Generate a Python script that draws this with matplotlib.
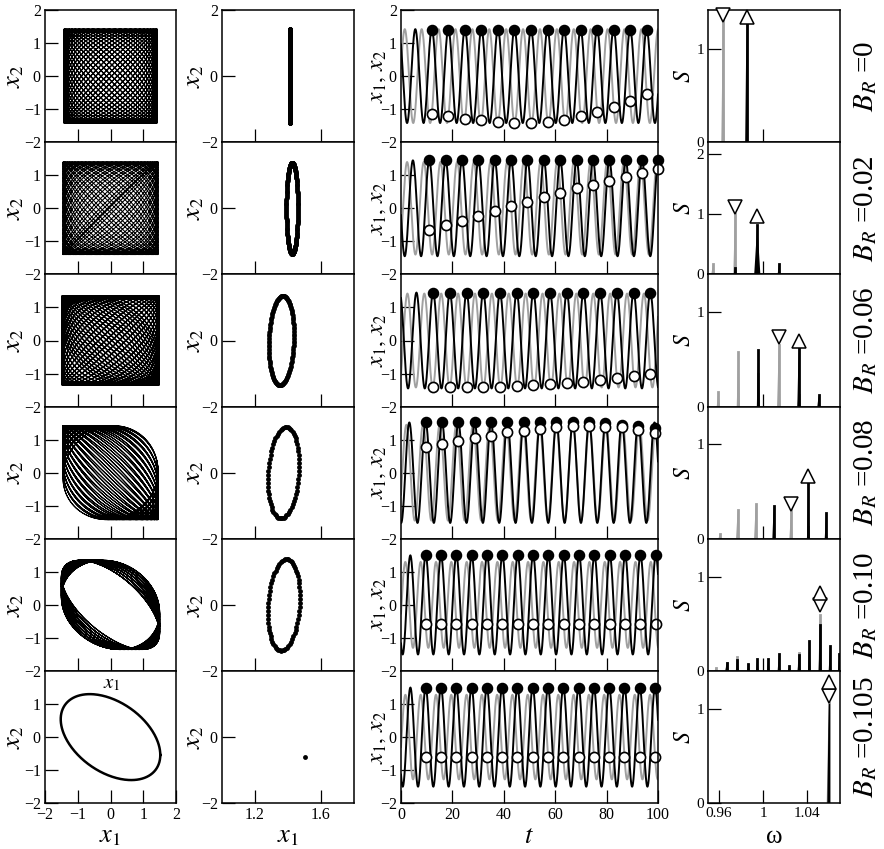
import numpy as np
import matplotlib.pyplot as plt

plt.rcParams['font.family'] = ['Liberation Serif', 'DejaVu Serif']
plt.rcParams['mathtext.fontset'] = 'stix'

W, H = 884, 849
b_r = ['0', '0.02', '0.06', '0.08', '0.10', '0.105']

# ---- time series (column 3) ----
ts_first = [12.0, 11.0, 12.5, 9.6, 9.6, 9.6]
ts_period = [6.43, 6.37, 6.5, 6.36, 5.97, 5.95]
ts_amp1 = [1.42, 1.45, 1.45, 1.52, 1.5, 1.5]
ts_amp2 = [1.42, 1.40, 1.42, 1.45, 1.3, 1.28]
ts_phase0 = [3.78, 2.07, 3.28, 0.99, 2.05, 2.05]
ts_drift = [-0.139, -0.115, -0.07, -0.11, 0.0, 0.0]
filled_vals = [
    [1.40] * 14,
    [1.45] * 15,
    [1.45] * 14,
    [1.52] * 11 + [1.50, 1.45, 1.40, 1.36],
    [1.50] * 16,
    [1.50] * 16,
]
open_vals = [
    [-1.14, -1.22, -1.29, -1.34, -1.39, -1.42, -1.42, -1.39, -1.32, -1.22, -1.10, -0.92, -0.74, -0.55],
    [-0.67, -0.52, -0.37, -0.22, -0.08, 0.06, 0.20, 0.34, 0.47, 0.60, 0.72, 0.84, 0.95, 1.06, 1.18],
    [-1.41, -1.42, -1.42, -1.42, -1.41, -1.39, -1.36, -1.33, -1.29, -1.25, -1.20, -1.14, -1.08, -1.02],
    [0.77, 0.88, 0.95, 1.05, 1.12, 1.22, 1.27, 1.33, 1.39, 1.40, 1.40, 1.38, 1.37, 1.30, 1.20],
    [-0.58] * 16,
    [-0.59] * 16,
]

# ---- phase portraits (column 1) ----
pp_amp1 = [1.42, 1.45, 1.48, 1.45, 1.5, 1.52]
pp_amp2 = [1.42, 1.40, 1.35, 1.42, 1.35, 1.3]
pp_periods = [52, 32, 50, 44, 40, 1]
pp_phase0 = [0.0, 0.0, 0.0, 2.3, 2.0, 2.0]
pp_drift = [0.121, 0.2, 0.126, 0.0, 0.0, 0.0]
pp_swing = [0.0, 0.0, 0.3, 0.84, 0.28, 0.0]
pp_slow = [1, 1, 50, 22, 13, 1]

# ---- Poincare sections (column 2) ----
ps_cx = [1.41, 1.425, 1.36, 1.373, 1.375, 1.5]
ps_cy = [0.0, 0.0, 0.0, 0.0, 0.0, -0.6]
ps_wx = [0.0, 0.035, 0.076, 0.094, 0.097, 0.0]
ps_hy = [1.42, 1.38, 1.35, 1.38, 1.38, 0.0]
ps_beta = [1.571, 1.571, 1.45, 1.4, 1.4, 0.0]
ps_npts = [300, 300, 200, 70, 70, 1]

# ---- spectra (column 4) ----
sp_ylim = [1.42, 2.2, 1.4, 1.4, 1.4, 1.4]
black_pos = [
    [0.985],
    [0.9745, 0.9948, 1.0145],
    [0.9957, 1.0324, 1.0506],
    [1.0097, 1.0412, 1.0573],
    [0.967, 0.9767, 0.9867, 0.9948, 1.0048, 1.0145, 1.0239, 1.0327, 1.0421, 1.0518, 1.0609, 1.0694],
    [1.0597],
]
black_h = [
    [1.34],
    [0.10, 0.83, 0.18],
    [0.60, 0.63, 0.12],
    [0.35, 0.61, 0.27],
    [0.08, 0.12, 0.07, 0.13, 0.13, 0.18, 0.05, 0.17, 0.32, 0.49, 0.26, 0.18],
    [1.05],
]
gray_pos = [
    [0.9636],
    [0.9545, 0.9745, 0.9948],
    [0.9594, 0.9776, 0.9957, 1.0143, 1.0324],
    [0.9609, 0.977, 0.9934, 1.0255, 1.0412],
    [0.9573, 0.967, 0.9767, 0.9867, 1.0327, 1.0518],
    [1.0597],
]
gray_h = [
    [1.37],
    [0.17, 1.0, 0.10],
    [0.15, 0.58, 0.35, 0.65, 0.12],
    [0.05, 0.31, 0.37, 0.30, 0.12],
    [0.035, 0.09, 0.15, 0.06, 0.19, 0.59],
    [1.06],
]
tri_down = [(0.9636, 1.37), (0.9745, 1.12), (1.0143, 0.74), (1.0255, 0.37), (1.0518, 0.70), (1.0597, 1.13)]
tri_up = [(0.985, 1.34), (0.9948, 0.97), (1.0324, 0.69), (1.0412, 0.66), (1.0518, 0.83), (1.0597, 1.28)]

GRAY = '#a0a0a0'
col_px = [(45, 176), (222, 354), (401, 658), (708, 840)]
row_top, row_h = 10, 132.2

fig = plt.figure(figsize=(W / 100, H / 100), dpi=100)


def make_ax(r, c):
    x0, x1 = col_px[c]
    top = row_top + r * row_h
    ax = fig.add_axes([x0 / W, 1 - (top + row_h) / H, (x1 - x0) / W, row_h / H])
    ax.tick_params(direction='in', length=9.5, width=0.9, labelsize=11.5,
                   top=False, right=False, pad=3)
    for s in ax.spines.values():
        s.set_linewidth(1.1)
    return ax


t = np.linspace(0, 100, 4000)
for r in range(6):
    last = r == 5
    # column 1
    ax = make_ax(r, 0)
    s = np.linspace(0, pp_periods[r], pp_periods[r] * 300)
    th = 2 * np.pi * s
    tri = 2 / np.pi * np.arcsin(np.sin(2 * np.pi * s / pp_slow[r]))
    ph = pp_phase0[r] + pp_drift[r] * s + pp_swing[r] * tri
    ax.plot(pp_amp1[r] * np.cos(th), pp_amp2[r] * np.cos(th + ph),
            color='black', lw=1.8 if last else 0.75)
    ax.set_xlim(-2, 2)
    ax.set_ylim(-2, 2)
    ax.set_xticks([-1, 0, 1] if not last else [-2, -1, 0, 1, 2])
    if not last:
        ax.set_xticklabels([])
    ax.set_yticks([-2, -1, 0, 1, 2] if r == 0 else [-2, -1, 0, 1])

    # column 2
    ax = make_ax(r, 1)
    u = np.linspace(0, 2 * np.pi, ps_npts[r], endpoint=False)
    ax.plot(ps_cx[r] + ps_wx[r] * np.cos(u + ps_beta[r]), ps_cy[r] + ps_hy[r] * np.cos(u),
            'o', color='black', ms=3.2 if r < 3 else 3.5, mew=0)
    ax.set_xlim(1.0, 1.8)
    ax.set_ylim(-2, 2)
    ax.set_xticks([1.2, 1.6])
    if not last:
        ax.set_xticklabels([])
    ax.set_yticks([-2, 0, 2] if r == 0 else [-2, 0])

    # column 3
    ax = make_ax(r, 2)
    T = ts_period[r]
    u = (t - ts_first[r]) / T
    ax.plot(t, ts_amp2[r] * np.cos(2 * np.pi * u + ts_phase0[r] + ts_drift[r] * u),
            color=GRAY, lw=1.4)
    ax.plot(t, ts_amp1[r] * np.cos(2 * np.pi * u), color='black', lw=1.4)
    tn = ts_first[r] + T * np.arange(len(filled_vals[r]))
    ax.plot(tn, filled_vals[r], 'o', ms=7.3, mfc='black', mec='black', clip_on=False)
    ax.plot(tn, open_vals[r], 'o', ms=7.3, mfc='white', mec='black', mew=1.2, clip_on=False)
    ax.set_xlim(0, 100)
    ax.set_ylim(-2, 2)
    ax.set_xticks([20, 40, 60, 80] if not last else [0, 20, 40, 60, 80, 100])
    if not last:
        ax.set_xticklabels([])
    ax.set_yticks([-2, -1, 0, 1, 2] if r == 0 else [-2, -1, 0, 1])

    # column 4
    ax = make_ax(r, 3)
    ax.tick_params(labelsize=11)
    for p, h in zip(gray_pos[r], gray_h[r]):
        hw = 0.0018 if r == 5 else 0.0015
        ax.fill([p - hw, p, p + hw], [0, h, 0], color=GRAY, lw=0, zorder=2)
        ax.plot([p, p], [0, h], color=GRAY, lw=2.0, zorder=2)
    for p, h in zip(black_pos[r], black_h[r]):
        hw = 0.0028 if (r == 1 and h > 0.5) else 0.0012
        ax.fill([p - hw, p, p + hw], [0, h, 0], color='black', lw=0, zorder=3)
        ax.plot([p, p], [0, h], color='black', lw=2.0 if r != 5 else 0.9, zorder=3)
    ax.plot(*tri_down[r], marker='v', ms=10.5, mfc='white', mec='black', mew=1.1,
            zorder=5, clip_on=False)
    ax.plot(*tri_up[r], marker='^', ms=10.5, mfc='white', mec='black', mew=1.1,
            zorder=5, clip_on=False)
    ax.set_xlim(0.95, 1.07)
    ax.set_ylim(0, sp_ylim[r])
    if last:
        ax.set_xticks([0.96, 1.0, 1.04])
        ax.set_xticklabels(['0.96', '1', '1.04'])
    else:
        ax.set_xticks([1.0])
        ax.set_xticklabels(['1'])
    ax.set_yticks([0, 1, 2] if r == 1 else [0, 1])
    ax.set_yticklabels(['0', '1', '2'] if r == 1 else ['0', '1'])

    # axis labels
    yc = 1 - (row_top + (r + 0.5) * row_h) / H
    fig.text(15 / W, yc, '$x_2$', rotation=90, ha='center', va='center', fontsize=19)
    fig.text(195 / W, yc, '$x_2$', rotation=90, ha='center', va='center', fontsize=19)
    fig.text(378 / W, yc, '$x_1,\\,x_2$', rotation=90, ha='center', va='center', fontsize=17)
    fig.text(685 / W, yc, '$S$', rotation=90, ha='center', va='center', fontsize=17)
    fig.text(866 / W, yc, '$B_R$ =' + b_r[r], rotation=90, ha='center', va='center', fontsize=21)

fig.text(112 / W, 1 - 684 / H, '$x_1$', ha='center', va='center', fontsize=15)
yb = 1 - 837 / H
fig.text(110 / W, yb, '$x_1$', ha='center', va='center', fontsize=19)
fig.text(288 / W, yb, '$x_1$', ha='center', va='center', fontsize=19)
fig.text(529 / W, yb, '$t$', ha='center', va='center', fontsize=19)
fig.text(774 / W, yb, 'ω', ha='center', va='center', fontsize=18)

fig.savefig('out.png', dpi=100)
